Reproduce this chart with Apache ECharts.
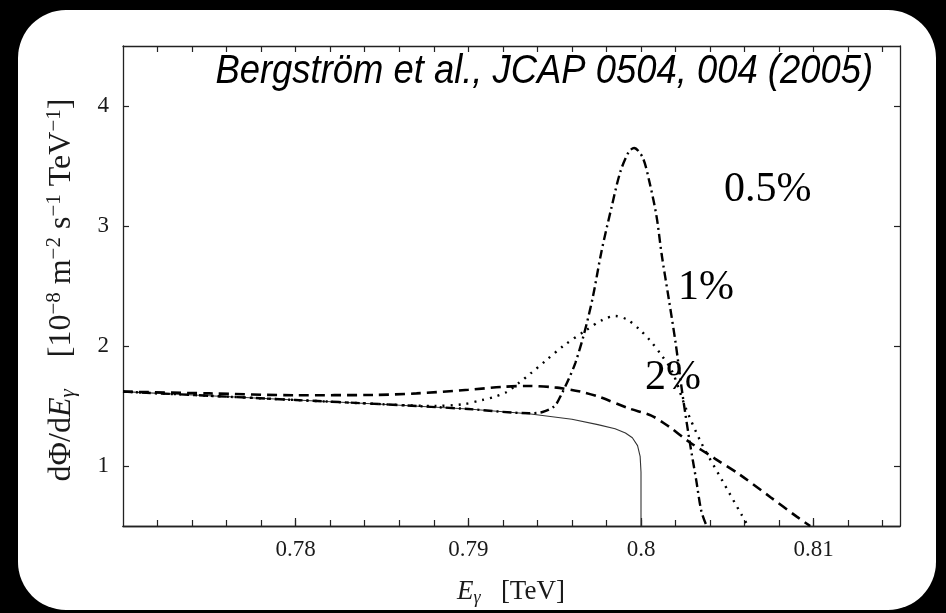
<!DOCTYPE html>
<html><head><meta charset="utf-8">
<script src="https://cdn.jsdelivr.net/npm/echarts@6/dist/echarts.min.js"></script>
<style>html,body{margin:0;padding:0;background:#000;}#c{width:946px;height:613px;}</style>
</head><body><div id="c"></div>
<script>
// ---- data ----
const xTickLabels = [0.78, 0.79, 0.80, 0.81];
const yTickLabels = [1, 2, 3, 4];
const curveLabels = ['0.5%', '1%', '2%'];
const titleText = 'Bergström et al., JCAP 0504, 004 (2005)';

// no energy broadening (thin solid)
const solidX = [0.770, 0.775, 0.780, 0.785, 0.790, 0.7935, 0.796, 0.7975, 0.7985, 0.7991, 0.7995, 0.7998, 0.79995, 0.8, 0.8];
const solidY = [1.62, 1.585, 1.55, 1.515, 1.475, 1.435, 1.39, 1.345, 1.31, 1.275, 1.235, 1.17, 1.08, 0.95, 0.5];

// 0.5% resolution (dash-dot)
const halfX = [0.770, 0.775, 0.780, 0.785, 0.790, 0.7935, 0.7943, 0.7950, 0.7954, 0.7958, 0.7962, 0.7967, 0.7972, 0.7977, 0.7983, 0.7988, 0.7993, 0.7996, 0.8001, 0.8005, 0.8009, 0.8012, 0.8016, 0.8020, 0.8024, 0.8028, 0.8032, 0.8035, 0.8038];
const halfY = [1.62, 1.585, 1.55, 1.515, 1.475, 1.44, 1.45, 1.50, 1.60, 1.72, 1.86, 2.10, 2.40, 2.78, 3.16, 3.45, 3.62, 3.65, 3.57, 3.36, 3.08, 2.76, 2.40, 2.03, 1.60, 1.22, 0.88, 0.62, 0.5];

// 1% resolution (dotted)
const oneX = [0.770, 0.775, 0.780, 0.785, 0.788, 0.7897, 0.7908, 0.7916, 0.7922, 0.7929, 0.7936, 0.7945, 0.7955, 0.7968, 0.7978, 0.7985, 0.7992, 0.7999, 0.8005, 0.8011, 0.8018, 0.8026, 0.8035, 0.8047, 0.8058, 0.8062];
const oneY = [1.62, 1.585, 1.55, 1.515, 1.50, 1.515, 1.55, 1.58, 1.615, 1.69, 1.77, 1.88, 2.0, 2.13, 2.22, 2.25, 2.22, 2.14, 2.05, 1.94, 1.79, 1.48, 1.19, 0.88, 0.60, 0.5];

// 2% resolution (dashed)
const twoX = [0.770, 0.775, 0.780, 0.7845, 0.787, 0.790, 0.792, 0.7935, 0.795, 0.7965, 0.7976, 0.7993, 0.8006, 0.8016, 0.8028, 0.8043, 0.8057, 0.8075, 0.8090, 0.8098];
const twoY = [1.62, 1.605, 1.59, 1.592, 1.605, 1.635, 1.66, 1.667, 1.655, 1.62, 1.575, 1.48, 1.42, 1.33, 1.20, 1.06, 0.93, 0.74, 0.58, 0.5];

// tick positions along x (every 0.002)
const xTickValues = [];
for (let k = 386; k <= 407; k++) xTickValues.push(+(k * 0.002).toFixed(3));

const pairs = (xs, ys) => xs.map((x, i) => [x, ys[i]]);

const chart = echarts.init(document.getElementById('c'), null, {renderer: 'canvas'});
const serif = 'Liberation Serif';
const axisCommon = {
  axisLine: {show: true, onZero: false, lineStyle: {color: '#222', width: 1.3}},
  splitLine: {show: false},
  axisTick: {inside: true, length: 6, lineStyle: {color: '#222', width: 1.2}},
};
function xAxisDef(pos, showLabels, ticks, len) {
  return Object.assign({}, axisCommon, {
    type: 'value', position: pos, min: 0.77, max: 0.815,
    axisTick: {inside: true, length: len, customValues: ticks, lineStyle: {color: '#222', width: 1.2}},
    axisLabel: {show: showLabels, customValues: xTickLabels, margin: 12,
      formatter: v => String(Math.round(v * 100) / 100),
      fontFamily: serif, fontSize: 23, color: '#1a1a1a'}
  });
}
function yAxisDef(pos, showLabels) {
  return Object.assign({}, axisCommon, {
    type: 'value', position: pos, min: 0.5, max: 4.5,
    axisTick: Object.assign({}, axisCommon.axisTick, {customValues: yTickLabels}),
    axisLabel: {show: showLabels, customValues: yTickLabels, margin: 14,
      fontFamily: serif, fontSize: 23, color: '#1a1a1a'}
  });
}

const option = {
  backgroundColor: '#000',
  animation: false,
  grid: {left: 123, top: 46, right: 46, bottom: 87},
  xAxis: [xAxisDef('bottom', true, xTickValues, 6), xAxisDef('top', false, xTickValues, 6),
          xAxisDef('bottom', false, xTickLabels, 8)],
  yAxis: [yAxisDef('left', true), yAxisDef('right', false)],
  graphic: [
    {type: 'rect', z: -10, shape: {x: 18, y: 10, width: 918, height: 600, r: 48}, style: {fill: '#fff'}},
    {type: 'text', z: 100, x: 873, y: 72, scaleX: 0.91, style: {text: titleText, align: 'right', verticalAlign: 'middle',
      font: 'italic 40px "Liberation Sans"', fill: '#000'}},
    {type: 'text', z: 100, x: 724, y: 190, style: {text: curveLabels[0], align: 'left', verticalAlign: 'middle',
      font: '42px "Liberation Serif"', fill: '#000'}},
    {type: 'text', z: 100, x: 678, y: 288, style: {text: curveLabels[1], align: 'left', verticalAlign: 'middle',
      font: '42px "Liberation Serif"', fill: '#000'}},
    {type: 'text', z: 100, x: 645, y: 378, style: {text: curveLabels[2], align: 'left', verticalAlign: 'middle',
      font: '42px "Liberation Serif"', fill: '#000'}},
    {type: 'text', z: 100, x: 62, y: 290, rotation: Math.PI / 2, style: {
      text: 'dΦ/d{i|E}{sub|γ}    [10{sup|−8} m{sup|−2} s{sup|−1} TeV{sup|−1}]',
      align: 'center', verticalAlign: 'middle', fontFamily: serif, fontSize: 32, fill: '#1a1a1a',
      rich: {
        i: {fontFamily: serif, fontStyle: 'italic', fontSize: 32, fill: '#1a1a1a'},
        sub: {fontFamily: serif, fontStyle: 'italic', fontSize: 21, padding: [13, 0, 0, 0], fill: '#1a1a1a'},
        sup: {fontFamily: serif, fontSize: 21, padding: [0, 0, 16, 0], fill: '#1a1a1a'}
      }}},
    {type: 'text', z: 100, x: 511, y: 592, style: {
      text: '{i|E}{sub|γ}   [TeV]', align: 'center', verticalAlign: 'middle', fontFamily: serif, fontSize: 27, fill: '#1a1a1a',
      rich: {
        i: {fontFamily: serif, fontStyle: 'italic', fontSize: 27, fill: '#1a1a1a'},
        sub: {fontFamily: serif, fontStyle: 'italic', fontSize: 18, padding: [12, 0, 0, 0], fill: '#1a1a1a'}
      }}}
  ],
  series: [
    {name: 'no broadening', type: 'line', data: pairs(solidX, solidY), symbol: 'none', smooth: false,
      lineStyle: {color: '#333', width: 1.1}, z: 3},
    {name: '2%', type: 'line', data: pairs(twoX, twoY), symbol: 'none', smooth: 0.3,
      lineStyle: {color: '#000', width: 2.6, type: [10, 6]}, z: 4},
    {name: '1%', type: 'line', data: pairs(oneX, oneY), symbol: 'none', smooth: 0.3,
      lineStyle: {color: '#000', width: 2.4, type: [2, 6]}, z: 5},
    {name: '0.5%', type: 'line', data: pairs(halfX, halfY), symbol: 'none', smooth: 0.3,
      lineStyle: {color: '#000', width: 2.4, type: [9, 4, 2, 4]}, z: 6}
  ]
};
chart.setOption(option);
</script></body></html>
